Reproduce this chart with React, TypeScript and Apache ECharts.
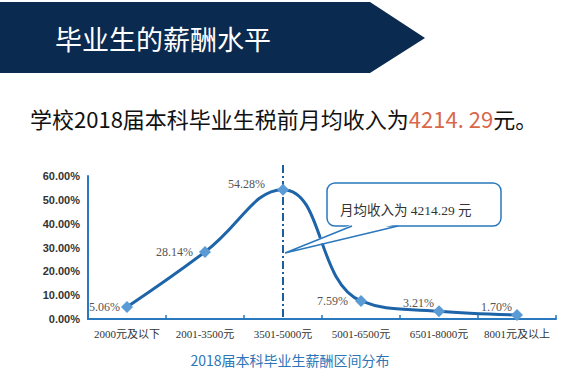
import React, { useEffect, useRef } from "react";
import * as echarts from "echarts";

const categories = ["2000元及以下", "2001-3500元", "3501-5000元", "5001-6500元", "6501-8000元", "8001元及以上"];
const shares = [5.06, 28.14, 54.28, 7.59, 3.21, 1.7];
const labelOffsets: number[][] = [[-1, 0], [-6, 0], [-12, -6], [-7, 0], [1, -8], [1, -8]];
const yTicks = [0, 10, 20, 30, 40, 50, 60];
const meanCategoryIndex = 2;
const headerTitle = "毕业生的薪酬水平";
const chartTitle = "2018届本科毕业生薪酬区间分布";
const calloutText = "月均收入为 4214.29 元";

const AXIS = "#2a78bd";
const LINE = "#1d64a8";
const MARK = "#5b9bd5";
const SERIF = "'Liberation Serif', 'Noto Sans CJK SC', serif";
const SANS = "'Noto Sans CJK SC', sans-serif";

export default function App() {
  const ref = useRef<HTMLDivElement>(null);
  useEffect(() => {
    if (!ref.current) return;
    const chart = echarts.init(ref.current, null, { renderer: "svg" });
    chart.setOption({
      animation: false,
      backgroundColor: "#ffffff",
      grid: { left: 88, right: 11, top: 176, bottom: 59 },
      xAxis: {
        type: "category",
        data: categories,
        boundaryGap: true,
        axisLine: { lineStyle: { color: AXIS, width: 2 } },
        axisTick: { show: true, inside: true, length: 4, lineStyle: { color: AXIS, width: 1.5 } },
        axisLabel: { color: "#333", fontFamily: SERIF, fontSize: 11, margin: 9, interval: 0 },
      },
      yAxis: {
        type: "value",
        min: yTicks[0],
        max: yTicks[yTicks.length - 1],
        interval: 10,
        axisLine: { show: true, lineStyle: { color: AXIS, width: 2 } },
        axisTick: { show: false },
        splitLine: { show: false },
        axisLabel: {
          color: "#333",
          fontFamily: "'Liberation Sans', Arial, sans-serif",
          fontSize: 11,
          fontWeight: "bold",
          margin: 8,
          formatter: (v: number) => v.toFixed(2) + "%",
        },
      },
      series: [
        {
          type: "line",
          smooth: 0.45,
          data: shares.map((v, i) => ({
            value: v,
            label: { offset: labelOffsets[i] },
          })),
          lineStyle: { color: LINE, width: 3 },
          symbol: "diamond",
          symbolSize: 12,
          itemStyle: { color: MARK },
          label: {
            show: true,
            position: "left",
            distance: 0,
            color: "#555",
            fontFamily: SERIF,
            fontSize: 12,
            formatter: (p: any) => Number(p.value).toFixed(2) + "%",
          },
        },
      ],
    });

    const mx = chart.convertToPixel({ xAxisIndex: 0 }, categories[meanCategoryIndex]) as number;
    const y0 = chart.convertToPixel({ yAxisIndex: 0 }, 0) as number;

    chart.setOption({
      graphic: [
        {
          type: "polygon",
          shape: { points: [[0, 2], [370, 2], [425, 38], [370, 73], [0, 73]] },
          style: { fill: "#0b2a50" },
        },
        {
          type: "text",
          x: 55,
          y: 38,
          style: {
            text: headerTitle,
            fill: "#ffffff",
            font: `27px ${SANS}`,
            verticalAlign: "middle",
          },
        },
        {
          type: "text",
          x: 30,
          y: 118,
          style: {
            rich: {
              a: { fontSize: 22, fontFamily: SANS, fill: "#111" },
              b: { fontSize: 22, fontFamily: SANS, fill: "#d9684a" },
            },
            text: "{a|学校2018届本科毕业生税前月均收入为}{b|4214. 29}{a|元。}",
            verticalAlign: "middle",
          },
        },
        {
          type: "line",
          shape: { x1: mx, y1: 165, x2: mx, y2: y0 },
          style: { stroke: "#1d5f9c", lineWidth: 2, lineDash: [8, 3, 2, 3] },
          z: 1,
        },
        {
          type: "rect",
          shape: { x: 327, y: 183, width: 174, height: 43, r: 8 },
          style: { fill: "#fff", stroke: AXIS, lineWidth: 1.5 },
          z: 10,
        },
        {
          type: "polygon",
          shape: { points: [[353, 224], [397, 224], [285, 253]] },
          style: { fill: "#fff" },
          z: 11,
        },
        {
          type: "polyline",
          shape: { points: [[352, 226], [285, 253], [398, 226]] },
          style: { stroke: AXIS, lineWidth: 1.5, fill: null },
          z: 12,
        },
        {
          type: "text",
          x: 340,
          y: 210,
          style: {
            text: calloutText,
            fill: "#333",
            font: `13.5px ${SERIF}`,
            verticalAlign: "middle",
          },
          z: 13,
        },
        {
          type: "text",
          x: 290,
          y: 360,
          style: {
            text: chartTitle,
            fill: "#2e75b6",
            font: `14px ${SANS}`,
            align: "center",
            verticalAlign: "middle",
          },
        },
      ],
    });
    return () => chart.dispose();
  }, []);
  return (
    <div
      ref={ref}
      style={{ position: "fixed", left: 0, top: 0, width: 567, height: 378 }}
    />
  );
}
